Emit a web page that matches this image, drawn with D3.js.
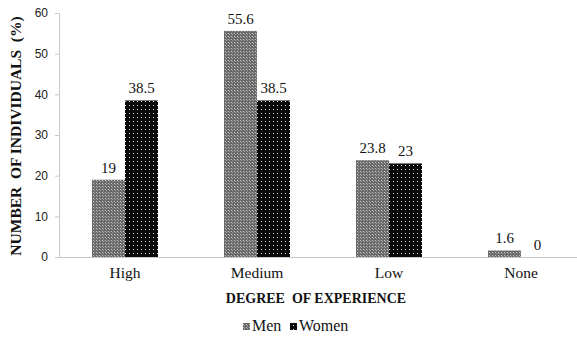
<!DOCTYPE html>
<html><head><meta charset="utf-8">
<script src="https://cdn.jsdelivr.net/npm/d3@7"></script>
<style>body{margin:0;background:#fff}svg{display:block}</style>
</head><body>
<script>
const categories = ["High", "Medium", "Low", "None"];
const menValues = [19, 55.6, 23.8, 1.6];
const womenValues = [38.5, 38.5, 23, 0];
const seriesNames = ["Men", "Women"];
const yTicks = [0, 10, 20, 30, 40, 50, 60];

const W = 577, H = 341;
const serif = "'Liberation Serif', 'Times New Roman', Times, serif";
const svg = d3.select("body").append("svg").attr("width", W).attr("height", H);
const defs = svg.append("defs");
const pm = defs.append("pattern").attr("id","pMen").attr("width",3).attr("height",3).attr("patternUnits","userSpaceOnUse");
pm.append("rect").attr("width",3).attr("height",3).attr("fill","#6a6a6a");
pm.append("rect").attr("x",0).attr("y",0).attr("width",1).attr("height",1).attr("fill","#c8c8c8");
pm.append("rect").attr("x",1).attr("y",1).attr("width",1).attr("height",1).attr("fill","#a0a0a0");
const pw = defs.append("pattern").attr("id","pWomen").attr("width",4).attr("height",4).attr("patternUnits","userSpaceOnUse");
pw.append("rect").attr("width",4).attr("height",4).attr("fill","#0a0a0a");
pw.append("rect").attr("x",1).attr("y",1).attr("width",1).attr("height",1).attr("fill","#e0e0e0");
const fills = ["url(#pMen)", "url(#pWomen)"];

const x = d3.scaleBand().domain(categories).range([59, 587]);
const y = d3.scaleLinear().domain([0, 60]).range([257, 13]);
const barW = 33;

// y axis
const yAxis = svg.append("g").attr("transform","translate(59,0)")
  .call(d3.axisLeft(y).tickValues(yTicks).tickSize(4).tickPadding(7));
yAxis.select(".domain").attr("stroke","#c8c8c8");
yAxis.selectAll(".tick line").attr("stroke","#c8c8c8");
yAxis.selectAll("text").attr("font-family","'Liberation Sans', Arial, sans-serif").attr("font-size",12).attr("fill","#222");

// baseline
svg.append("line").attr("x1",59).attr("x2",W).attr("y1",y(0)+0.5).attr("y2",y(0)+0.5).attr("stroke","#c8c8c8");

const data = [menValues, womenValues];
data.forEach((vals, si) => {
  svg.append("g").selectAll("rect").data(vals).join("rect")
    .attr("x",(d,i)=> x(categories[i]) + x.bandwidth()/2 - barW + si*barW)
    .attr("y",d=>y(d)).attr("width",barW).attr("height",d=>y(0)-y(d))
    .attr("fill",fills[si]);
  svg.append("g").selectAll("text").data(vals).join("text")
    .attr("x",(d,i)=> x(categories[i]) + x.bandwidth()/2 - barW/2 + si*barW)
    .attr("y",d=>y(d)-7)
    .attr("text-anchor","middle")
    .attr("font-family",serif)
    .attr("font-size",15).attr("fill","#111")
    .text(d=>d);
});

// category labels
svg.append("g").selectAll("text").data(categories).join("text")
  .attr("x",d=>x(d)+x.bandwidth()/2).attr("y",278)
  .attr("text-anchor","middle")
  .attr("font-family",serif)
  .attr("font-size",15.5).attr("fill","#111").text(d=>d);

// x title
svg.append("text").attr("x",316).attr("y",303).attr("text-anchor","middle")
  .attr("font-family",serif)
  .attr("font-size",14).attr("font-weight","bold").attr("fill","#111")
  .style("white-space","pre")
  .text("DEGREE  OF EXPERIENCE");

// y title
svg.append("text").attr("transform","translate(21,136) rotate(-90)").attr("text-anchor","middle")
  .attr("font-family",serif)
  .attr("font-size",15.5).attr("font-weight","bold").attr("fill","#111")
  .style("white-space","pre")
  .text("NUMBER  OF INDIVIDUALS  (%)");

// legend
const lg = svg.append("g");
const legX = [243, 290];
seriesNames.forEach((n, i) => {
  lg.append("rect").attr("x",legX[i]).attr("y",323).attr("width",7).attr("height",7).attr("fill",fills[i]);
  lg.append("text").attr("x",legX[i]+9).attr("y",331)
    .attr("font-family",serif)
    .attr("font-size",16).attr("fill","#111").text(n);
});
</script>
</body></html>
